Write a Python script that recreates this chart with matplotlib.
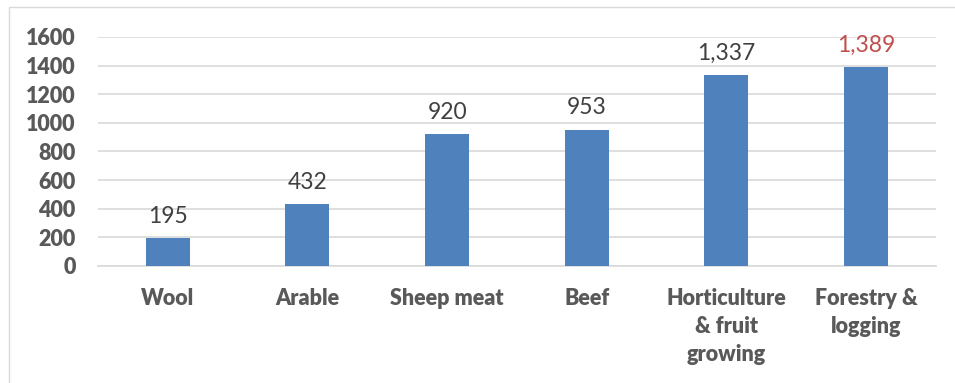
import matplotlib.pyplot as plt
from matplotlib.patches import Rectangle

categories = ["Wool", "Arable", "Sheep meat", "Beef",
              "Horticulture\n& fruit\ngrowing", "Forestry &\nlogging"]
values = [195, 432, 920, 953, 1337, 1389]
value_labels = ["195", "432", "920", "953", "1,337", "1,389"]
yticks = [0, 200, 400, 600, 800, 1000, 1200, 1400, 1600]

plt.rcParams['font.family'] = ['Lato', 'DejaVu Sans']

grey = '#595959'
fig = plt.figure(figsize=(9.55, 3.83), dpi=100)
ax = fig.add_axes([0.1026, 0.3055, 0.8774, 0.5979])

x = range(len(categories))
ax.bar(x, values, width=0.315, color='#4F81BD', zorder=3)

# value labels above bars, last one highlighted red
for i, (v, lab) in enumerate(zip(values, value_labels)):
    col = '#C0504D' if i == len(values) - 1 else '#404040'
    ax.annotate(lab, (i, v), xytext=(0, 8), textcoords='offset points',
                ha='center', va='bottom', fontsize=16.5, color=col)

ax.set_xlim(-0.5, len(categories) - 0.5)
ax.set_ylim(0, 1600)
ax.set_yticks(yticks)
ax.set_yticklabels([str(t) for t in yticks], fontsize=15.5,
                   fontweight='heavy', color=grey)
ax.set_xticks(list(x))
ax.set_xticklabels(categories, fontsize=15.5, fontweight='heavy',
                   color=grey, linespacing=1.42, va='top')
ax.tick_params(axis='both', length=0)
ax.tick_params(axis='x', pad=16)
ax.tick_params(axis='y', pad=16)

ax.grid(axis='y', color='#D9D9D9', linewidth=1.2, zorder=0)
for side in ['top', 'right', 'left']:
    ax.spines[side].set_visible(False)
ax.spines['bottom'].set_color('#D9D9D9')
ax.spines['bottom'].set_linewidth(1.2)

# light frame around the chart
fig.patches.append(Rectangle((9 / 955, -0.01), 1.0, 1 - 7 / 383 + 0.01,
                             transform=fig.transFigure, fill=False,
                             edgecolor='#D9D9D9', linewidth=1))

fig.savefig('out.png', dpi=100)
